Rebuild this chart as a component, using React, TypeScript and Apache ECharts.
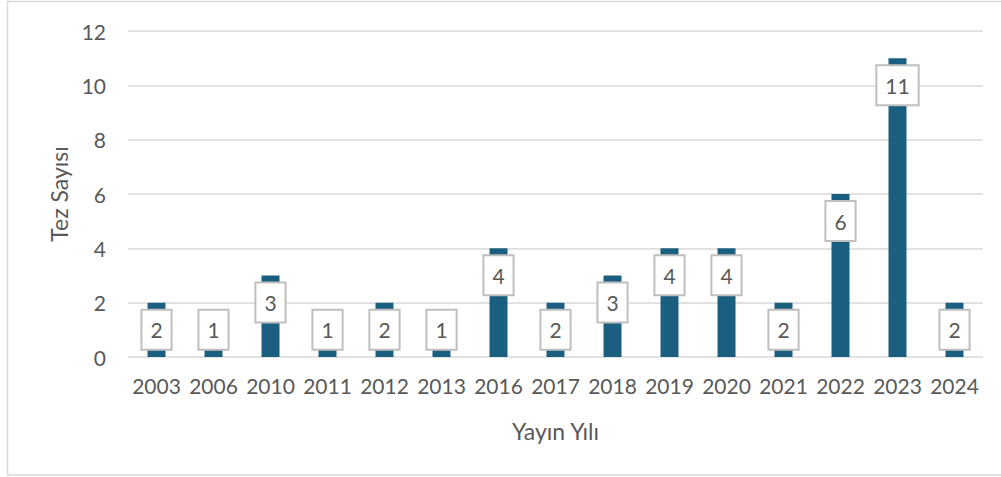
import React, { useEffect, useRef } from "react";
import * as echarts from "echarts";

const years = ["2003", "2006", "2010", "2011", "2012", "2013", "2016", "2017", "2018", "2019", "2020", "2021", "2022", "2023", "2024"];
const counts = [2, 1, 3, 1, 2, 1, 4, 2, 3, 4, 4, 2, 6, 11, 2];
const yTicks = { min: 0, max: 12, interval: 2 };
const yName = "Tez Sayısı";
const xName = "Yayın Yılı";

const FONT = "Lato, 'Open Sans', sans-serif";
const TXT = "#595959";

export default function App() {
  const ref = useRef<HTMLDivElement>(null);
  useEffect(() => {
    if (!ref.current) return;
    const chart = echarts.init(ref.current, null, { renderer: "svg" });
    chart.setOption({
      animation: false,
      backgroundColor: "#ffffff",
      textStyle: { fontFamily: FONT },
      grid: { left: 128, right: 18, top: 31, bottom: 120, containLabel: false },
      xAxis: {
        type: "category",
        data: years,
        name: xName,
        nameLocation: "middle",
        nameGap: 62,
        nameTextStyle: { color: TXT, fontSize: 23, fontFamily: FONT },
        axisLine: { show: false },
        axisTick: { show: false },
        axisLabel: { color: TXT, fontSize: 21, margin: 18, interval: 0, fontFamily: FONT },
      },
      yAxis: {
        type: "value",
        min: yTicks.min,
        max: yTicks.max,
        interval: yTicks.interval,
        name: yName,
        nameLocation: "middle",
        nameGap: 56,
        nameRotate: 90,
        nameTextStyle: { color: TXT, fontSize: 23, fontFamily: FONT },
        axisLine: { show: false },
        axisTick: { show: false },
        axisLabel: { color: TXT, fontSize: 21, margin: 22, fontFamily: FONT },
        splitLine: { lineStyle: { color: "#d9d9d9", width: 1.5 } },
      },
      series: [
        {
          type: "bar",
          barWidth: 18,
          itemStyle: { color: "#1a5f80" },
          data: counts.map((v) => ({
            value: v,
            label: v < 2 ? { position: ["50%", 0] } : {},
          })),
          label: {
            show: true,
            position: ["50%", 27],
            align: "center",
            verticalAlign: "middle",
            color: TXT,
            fontSize: 21,
            fontFamily: FONT,
            backgroundColor: "#ffffff",
            borderColor: "#bfbfbf",
            borderWidth: 2,
            padding: [8, 8, 8, 8],
            lineHeight: 22,
          },
        },
      ],
      graphic: [
        {
          type: "rect",
          shape: { x: 7.5, y: 1.5, width: 1010, height: 473.5 },
          style: { fill: "none", stroke: "#d9d9d9", lineWidth: 1.5 },
          silent: true,
          z: -1,
        },
      ],
    });
    return () => chart.dispose();
  }, []);
  return (
    <div
      ref={ref}
      style={{ position: "fixed", left: 0, top: 0, width: 1001, height: 477 }}
    />
  );
}
